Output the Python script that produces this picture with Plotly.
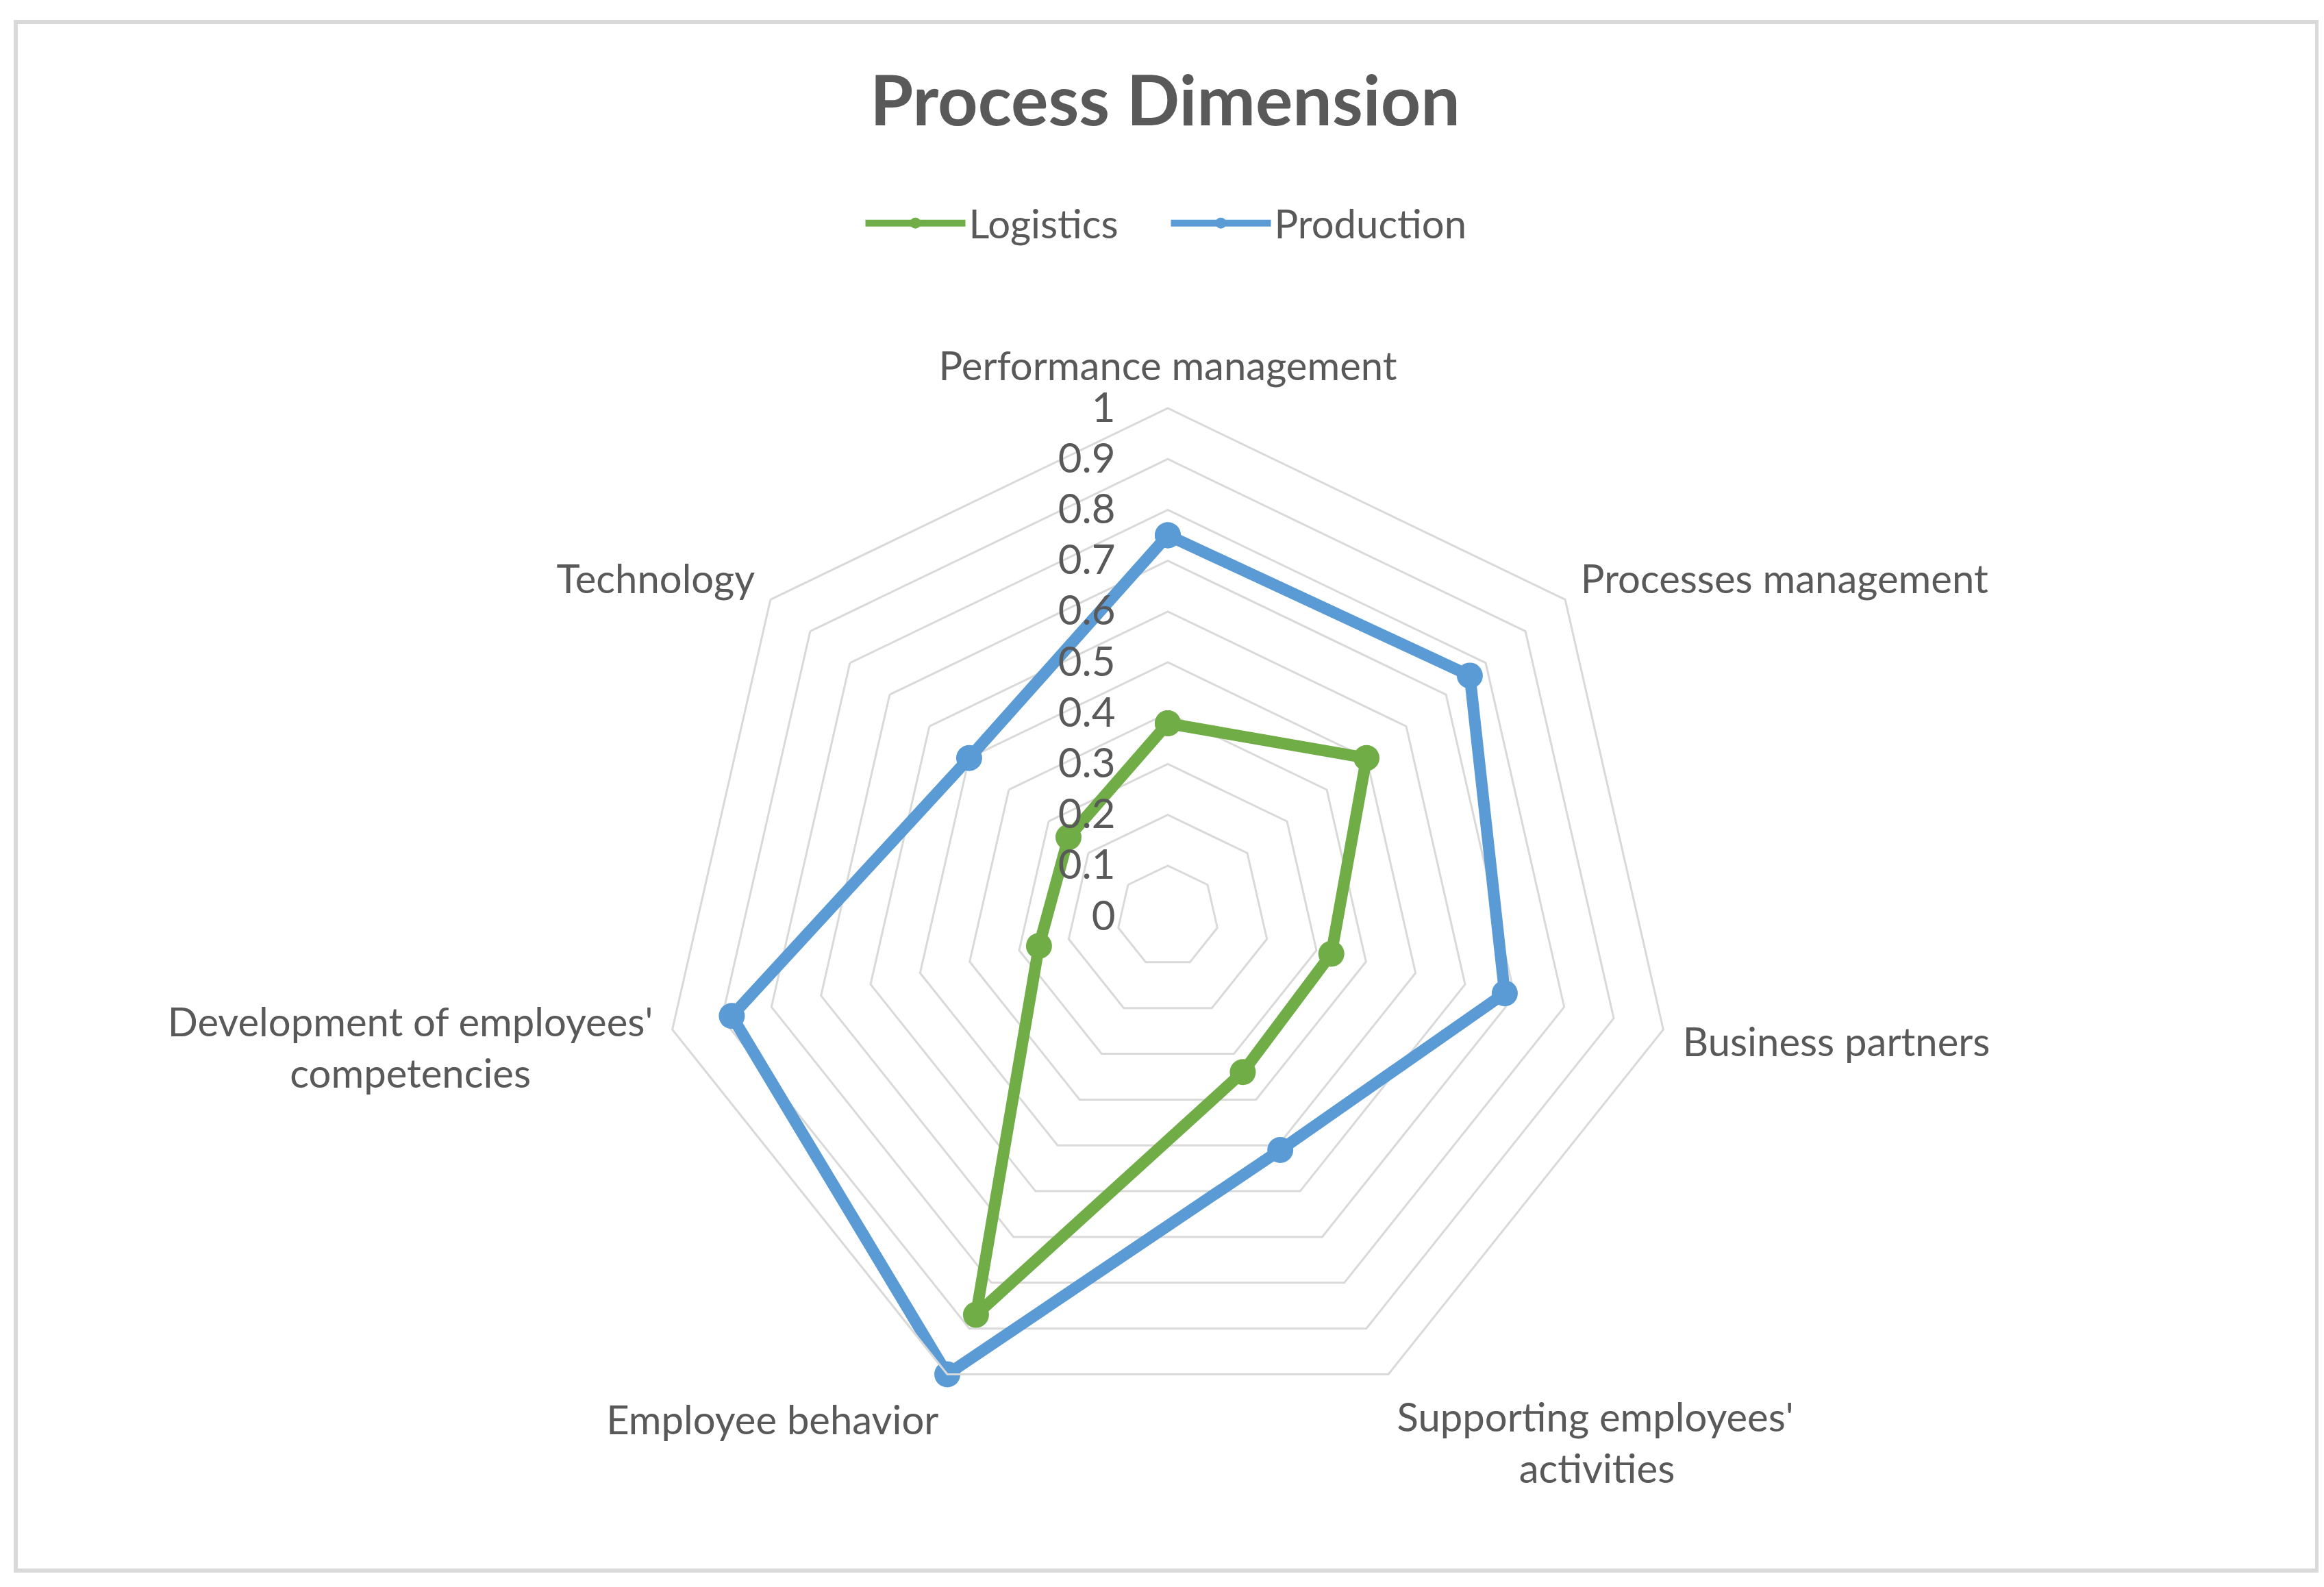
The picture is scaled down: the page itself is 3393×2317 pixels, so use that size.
import plotly.graph_objects as go

NB = "\u00a0"
categories = [
    "Performance management",
    "Processes management",
    "Business partners",
    "Supporting employees'<br>" + NB * 12 + "activities",
    "Employee behavior",
    "Development of employees'<br>competencies" + NB * 12,
    "Technology",
]
logistics = [0.38, 0.50, 0.33, 0.34, 0.87, 0.26, 0.25]
production = [0.75, 0.76, 0.68, 0.51, 1.00, 0.88, 0.50]
radial_ticks = [0, 0.1, 0.2, 0.3, 0.4, 0.5, 0.6, 0.7, 0.8, 0.9, 1]
radial_ticktext = ["0", "0.1", "0.2", "0.3", "0.4", "0.5", "0.6", "0.7", "0.8", "0.9", "1"]

W, H = 3393, 2317
FONT = "Lato"
TXT = "#595959"
GRID = "#d9d9d9"

fig = go.Figure()
series = [("Logistics", logistics, "#70AD47"), ("Production", production, "#5B9BD5")]
for name, vals, col in series:
    fig.add_trace(go.Scatterpolar(
        r=vals + vals[:1],
        theta=categories + categories[:1],
        mode="lines+markers",
        name=name,
        line=dict(color=col, width=17),
        marker=dict(color=col, size=38, symbol="circle"),
    ))

cx, cy, R = 1697, 1330, 742
fig.update_layout(
    width=W, height=H,
    margin=dict(l=0, r=0, t=0, b=0),
    paper_bgcolor="white",
    plot_bgcolor="white",
    title=dict(text="Process Dimension", x=1693 / W, xanchor="center",
               y=1 - 139 / H, yanchor="middle",
               font=dict(family=FONT, size=102, color=TXT, weight="bold")),
    legend=dict(orientation="h", x=0.5, xanchor="center", y=1 - 318 / H, yanchor="middle",
                font=dict(family=FONT, size=58, color=TXT), itemwidth=146,
                entrywidth=285, entrywidthmode="pixels",
                bgcolor="rgba(0,0,0,0)"),
    polar=dict(
        domain=dict(x=[(cx - R) / W, (cx + R) / W], y=[1 - (cy + R) / H, 1 - (cy - R) / H]),
        gridshape="linear",
        bgcolor="white",
        angularaxis=dict(direction="clockwise", rotation=90, showgrid=False,
                         showline=True, linecolor=GRID, linewidth=3,
                         ticks="outside", ticklen=16, tickcolor="rgba(0,0,0,0)",
                         tickfont=dict(family=FONT, size=58, color=TXT)),
        radialaxis=dict(range=[0, 1], tickvals=radial_ticks, ticktext=radial_ticktext,
                        angle=90, showline=False, ticks="outside", ticklen=55,
                        tickcolor="rgba(0,0,0,0)", gridcolor=GRID, gridwidth=3,
                        side="counterclockwise", tickangle=90,
                        tickfont=dict(family=FONT, size=60, color=TXT)),
    ),
    shapes=[dict(type="rect", xref="paper", yref="paper",
                 x0=15 / W, x1=3375 / W, y0=1 - 2285 / H, y1=1 - 24 / H,
                 line=dict(color=GRID, width=6), fillcolor="rgba(0,0,0,0)", layer="below")],
    font=dict(family=FONT, color=TXT),
)

fig.write_html("out.html")
